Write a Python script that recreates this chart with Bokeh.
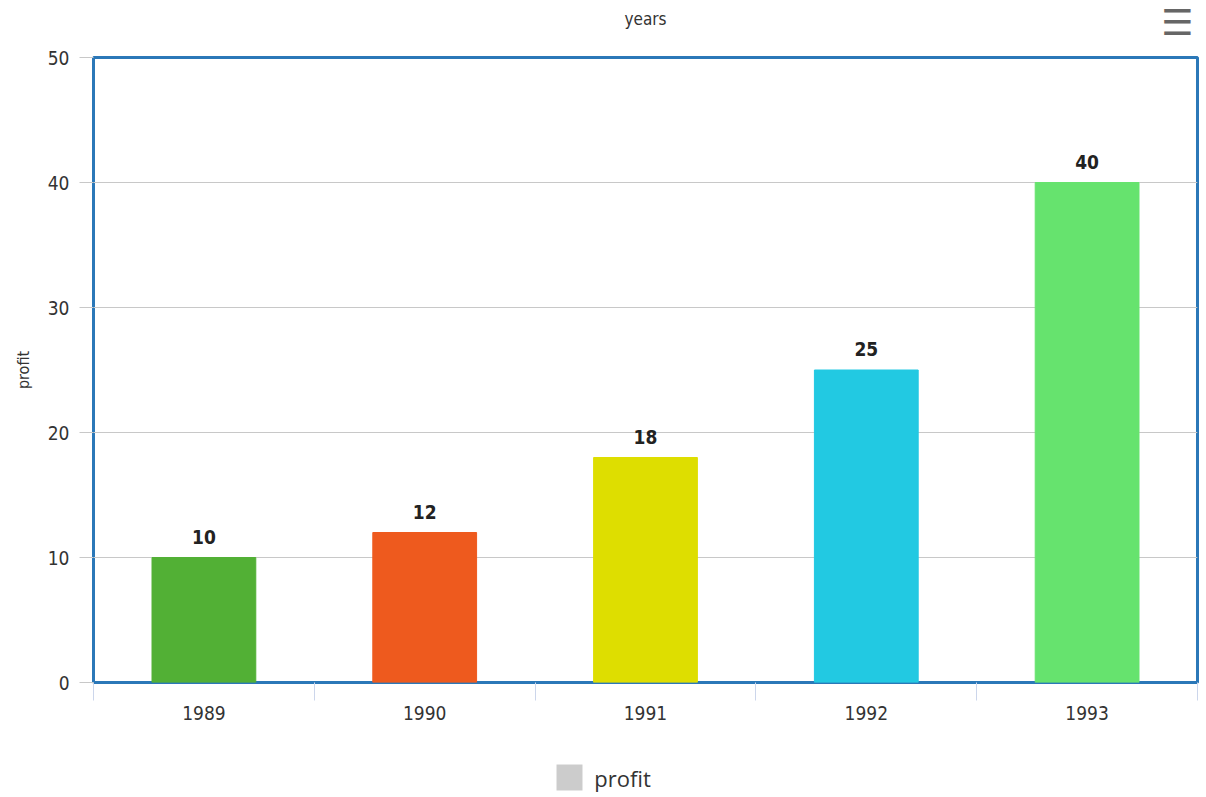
from bokeh.plotting import figure
from bokeh.models import (ColumnDataSource, Range1d, FixedTicker, LinearAxis, LabelSet)
from bokeh.core.properties import value
from bokeh.embed import file_html
from bokeh.resources import INLINE

years = ["1989", "1990", "1991", "1992", "1993"]
profit = [10, 12, 18, 25, 40]
colors = ["#52b035", "#ee5a1e", "#dede00", "#22c9e2", "#66e36e"]
y_ticks = [0, 10, 20, 30, 40, 50]
series_name = "profit"

COND = "DejaVu Sans Condensed"
n = len(years)
idx = list(range(n))

src = ColumnDataSource(dict(x=idx, years=years, profit=profit, colors=colors,
                            labels=[str(v) for v in profit]))

p = figure(width=1206, height=797, x_range=Range1d(-0.5, n - 0.5), y_range=Range1d(0, 50),
           output_backend="svg", toolbar_location=None,
           min_border_left=93, min_border_right=9,
           min_border_top=57, min_border_bottom=115)

p.vbar(x="x", top="profit", width=0.47, color="colors", source=src)

# x axis: labels at category centres, separator ticks at boundaries
xa = p.xaxis[0]
xa.ticker = FixedTicker(ticks=idx, minor_ticks=[i - 0.5 for i in range(n + 1)])
xa.major_label_overrides = {i: y for i, y in enumerate(years)}
xa.major_tick_out = 0
xa.major_tick_in = 0
xa.minor_tick_out = 18
xa.minor_tick_in = 0
xa.minor_tick_line_color = "#ccd6eb"
xa.axis_line_color = None
xa.major_label_standoff = 5
xa.major_label_text_font = COND
xa.major_label_text_font_size = "19px"
xa.major_label_text_color = "#333333"

# legend row below the axis: grey key square + series name
KEY_X, NAME_X = 1.656, 1.896
leg_axis = LinearAxis(ticker=FixedTicker(ticks=[NAME_X], minor_ticks=[KEY_X]),
                      major_label_overrides={NAME_X: series_name},
                      axis_line_color=None, major_tick_out=0, major_tick_in=0,
                      minor_tick_in=-42, minor_tick_out=68,
                      minor_tick_line_width=26, minor_tick_line_cap="butt",
                      minor_tick_line_color="#cccccc",
                      major_label_standoff=-28,
                      major_label_text_font="Open Sans",
                      major_label_text_font_size="22px",
                      major_label_text_color="#333333")
p.add_layout(leg_axis, "below")

# top row: "years" caption and the export-menu icon
MENU_X = 4.409
top_axis = LinearAxis(ticker=FixedTicker(ticks=[MENU_X]),
                      major_label_overrides={MENU_X: "\u2630"},
                      axis_label="years",
                      axis_line_color=None, major_tick_out=0, major_tick_in=0,
                      minor_tick_out=0, minor_tick_in=0,
                      major_label_standoff=15,
                      major_label_text_font="DejaVu Sans",
                      major_label_text_font_size="36px",
                      major_label_text_color="#666666",
                      axis_label_standoff=-30,
                      axis_label_text_font=COND, axis_label_text_font_size="17px",
                      axis_label_text_font_style="normal",
                      axis_label_text_color="#333333")
p.add_layout(top_axis, "above")

ya = p.yaxis[0]
ya.ticker = FixedTicker(ticks=y_ticks)
ya.major_tick_out = 14
ya.major_tick_in = 0
ya.minor_tick_out = 0
ya.minor_tick_in = 0
ya.major_tick_line_color = "#c8c8c8"
ya.axis_line_color = None
ya.major_label_standoff = 10
ya.major_label_text_font = COND
ya.major_label_text_font_size = "19px"
ya.major_label_text_color = "#333333"
ya.axis_label = "profit"
ya.axis_label_standoff = 12
ya.axis_label_text_font = COND
ya.axis_label_text_font_size = "16px"
ya.axis_label_text_font_style = "normal"
ya.axis_label_text_color = "#333333"

p.xgrid.visible = False
p.ygrid.grid_line_color = "#c8c8c8"

p.outline_line_color = "#2b78b8"
p.outline_line_width = 3

labels = LabelSet(x="x", y="profit", text="labels", source=src, y_offset=14,
                  text_align="center", text_baseline="bottom",
                  text_font=value(COND), text_font_size="19px",
                  text_font_style="bold", text_color="#222222")
p.add_layout(labels)

p.background_fill_color = "white"
p.border_fill_color = "white"

open("out.html", "w").write(file_html(p, INLINE))
